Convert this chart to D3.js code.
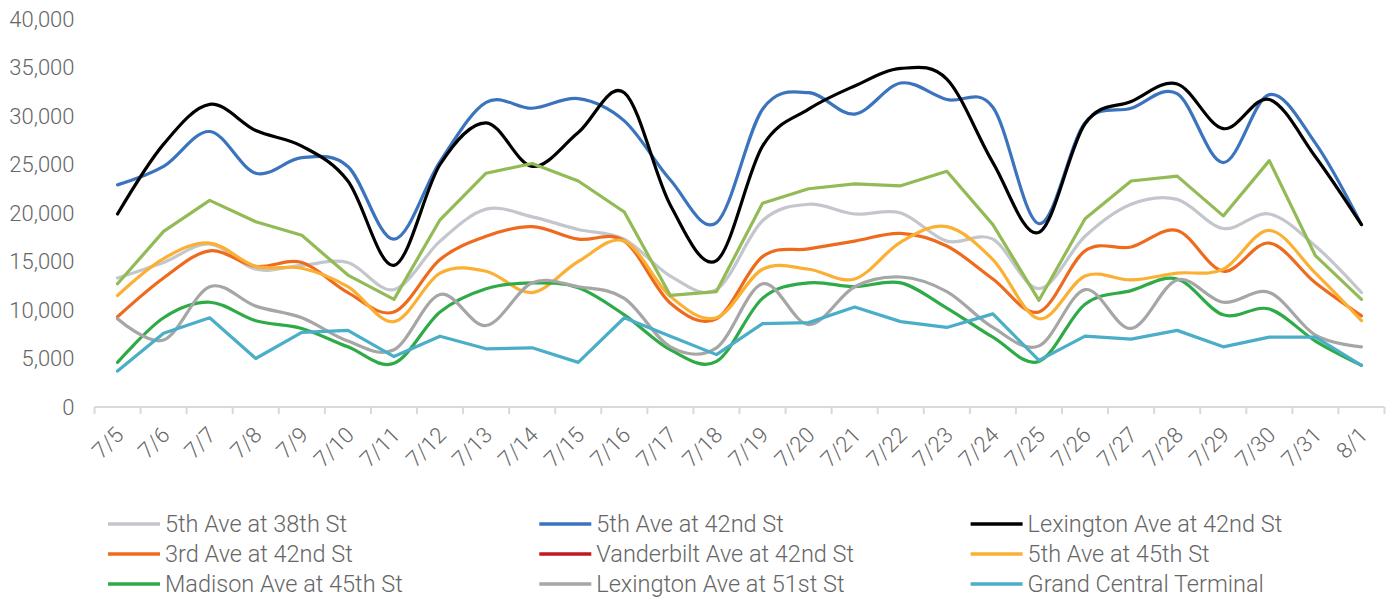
<!DOCTYPE html>
<html>
<head>
<meta charset="utf-8">
<script src="https://cdn.jsdelivr.net/npm/d3@7"></script>
<style>
  html, body { margin: 0; padding: 0; background: #fff; }
  svg { display: block; }
  .y-label { font-family: Roboto, "Open Sans", sans-serif; font-weight: 300; font-size: 22px; fill: #666; }
  .x-label { font-family: Roboto, "Open Sans", sans-serif; font-weight: 300; font-size: 22px; fill: #666; }
  .legend-label { font-family: Roboto, "Open Sans", sans-serif; font-weight: 300; font-size: 23.5px; fill: #666; }
</style>
</head>
<body>
<svg id="chart" width="1390" height="601"></svg>
<script>
// Daily pedestrian counts by location
const dates = ["7/5","7/6","7/7","7/8","7/9","7/10","7/11","7/12","7/13","7/14","7/15","7/16","7/17","7/18",
               "7/19","7/20","7/21","7/22","7/23","7/24","7/25","7/26","7/27","7/28","7/29","7/30","7/31","8/1"];

const fifthAve38 = [13300,14900,16800,14200,14600,14900,12100,17100,20400,19600,18300,17300,13500,12100,
                    19200,20900,19900,20000,17100,17300,12200,17600,20900,21400,18400,19900,16600,11800];
const fifthAve42 = [22900,24800,28400,24100,25700,24800,17300,25300,31400,30800,31800,29500,23400,19000,
                    30700,32400,30200,33400,31700,30900,18900,29300,30800,32300,25200,32200,27200,18800];
const lexAve42   = [19900,27100,31200,28500,26900,23300,14600,25000,29300,24800,28300,32400,20800,15100,
                    26900,30700,33100,34900,33800,25200,18000,29200,31500,33300,28700,31700,25800,18800];
const thirdAve42 = [9300,13300,16100,14500,14900,11800,9800,15200,17600,18600,17300,17100,10700,9100,
                    15500,16300,17100,17900,16600,13200,9800,16100,16500,18200,14000,16900,12800,9400];
const vanderbiltAve42 = [];
const fifthAve45 = [11500,15300,16900,14500,14300,12400,8800,13800,14000,11800,15000,17100,11400,9200,
                    14200,14200,13200,17000,18600,15200,9100,13500,13100,13800,14200,18200,13800,8900];
const madisonAve45 = [4600,9200,10800,8900,8100,6200,4500,9800,12200,12800,12300,9500,5900,4700,
                      11200,12800,12400,12800,10200,7200,4700,10600,12000,13200,9500,10100,6800,4300];
const lexAve51   = [9100,6900,12400,10400,9200,6800,5900,11600,8400,12800,12400,11200,6200,6100,
                    12700,8500,12400,13400,11900,8200,6300,12100,8100,13100,10800,11800,7400,6200];
const grandCentral = [3700,7600,9200,5000,7700,7900,5200,7300,6000,6100,4600,9200,7300,5400,
                      8600,8700,10300,8800,8200,9600,4800,7300,7000,7900,6200,7200,7200,4300];
// Series drawn without a legend entry
const unlabeledSeries = [12700,18100,21300,19100,17700,13600,11100,19300,24100,25100,23300,20100,11500,11900,
                         21000,22500,23000,22800,24300,18800,11000,19400,23300,23800,19700,25400,15600,11100];

const yTicks = [0,5000,10000,15000,20000,25000,30000,35000,40000];

const series = [
  { name: "5th Ave at 38th St",        values: fifthAve38,      color: "#c3c7cd", smooth: true,  legend: true },
  { name: "5th Ave at 42nd St",        values: fifthAve42,      color: "#3b74bd", smooth: true,  legend: true },
  { name: "Lexington Ave at 42nd St",  values: lexAve42,        color: "#000000", smooth: true,  legend: true },
  { name: "3rd Ave at 42nd St",        values: thirdAve42,      color: "#ee6b1e", smooth: true,  legend: true },
  { name: "Vanderbilt Ave at 42nd St", values: vanderbiltAve42, color: "#c0191e", smooth: true,  legend: true },
  { name: "5th Ave at 45th St",        values: fifthAve45,      color: "#fbb034", smooth: true,  legend: true },
  { name: "Madison Ave at 45th St",    values: madisonAve45,    color: "#2eaa47", smooth: true,  legend: true },
  { name: "Lexington Ave at 51st St",  values: lexAve51,        color: "#a6a6a6", smooth: true,  legend: true },
  { name: "Grand Central Terminal",    values: grandCentral,    color: "#4aaec8", smooth: false, legend: true },
  { name: "",                          values: unlabeledSeries, color: "#92bb55", smooth: false, legend: false }
];

const svg = d3.select("#chart");

const x = d3.scaleBand().domain(dates).range([94.5, 1384.5]).padding(0);
const y = d3.scaleLinear().domain([0, 40000]).range([407, 19]);
const cx = d => x(d) + x.bandwidth() / 2;

// Y axis labels (no axis line)
const yAxis = svg.append("g")
  .attr("transform", "translate(94.5,0)")
  .call(d3.axisLeft(y).tickValues(yTicks).tickFormat(d3.format(",")).tickSize(0).tickPadding(20));
yAxis.select(".domain").remove();
yAxis.selectAll("text").attr("class", "y-label").attr("font-family", null).attr("font-size", null).attr("fill", null);

// X axis: baseline, tick marks at category boundaries, rotated labels
const xg = svg.append("g");
xg.append("line")
  .attr("x1", x.range()[0]).attr("x2", x.range()[1])
  .attr("y1", y(0)).attr("y2", y(0))
  .attr("stroke", "#d9d9d9").attr("stroke-width", 2);
const boundaries = dates.map(d => x(d)).concat([x(dates[dates.length - 1]) + x.bandwidth()]);
xg.selectAll("line.tickmark").data(boundaries).join("line")
  .attr("class", "tickmark")
  .attr("x1", d => d).attr("x2", d => d)
  .attr("y1", y(0)).attr("y2", y(0) + 7)
  .attr("stroke", "#d9d9d9").attr("stroke-width", 2);

const xAxis = svg.append("g")
  .attr("transform", `translate(0,${y(0)})`)
  .call(d3.axisBottom(x).tickSize(0).tickPadding(0));
xAxis.select(".domain").remove();
xAxis.selectAll(".tick text")
  .attr("class", "x-label")
  .attr("font-family", null).attr("font-size", null).attr("fill", null)
  .attr("text-anchor", "end")
  .attr("dy", "0.35em")
  .attr("transform", "translate(2,24) rotate(-45)");

// Lines
const smoothLine = d3.line()
  .x((d, i) => cx(dates[i]))
  .y(d => y(d))
  .curve(d3.curveCardinal.tension(0));
const straightLine = d3.line()
  .x((d, i) => cx(dates[i]))
  .y(d => y(d))
  .curve(d3.curveLinear);

svg.append("g").selectAll("path").data(series.filter(s => s.values.length)).join("path")
  .attr("d", s => (s.smooth ? smoothLine : straightLine)(s.values))
  .attr("fill", "none")
  .attr("stroke", s => s.color)
  .attr("stroke-width", 3.2)
  .attr("stroke-linejoin", "round")
  .attr("stroke-linecap", "round");

// Legend: three columns, three rows
const legendItems = series.filter(s => s.legend);
const colX = [108, 539.3, 970.6];
const rowY = [524, 554, 584];
const lg = svg.append("g").selectAll("g").data(legendItems).join("g")
  .attr("transform", (s, i) => `translate(${colX[i % 3]},${rowY[Math.floor(i / 3)]})`);
lg.append("line")
  .attr("x1", 0).attr("x2", 52).attr("y1", 0).attr("y2", 0)
  .attr("stroke", s => s.color).attr("stroke-width", 3.5);
lg.append("text")
  .attr("class", "legend-label")
  .attr("x", 57).attr("y", 0).attr("dy", "0.35em")
  .text(s => s.name);
</script>
</body>
</html>
